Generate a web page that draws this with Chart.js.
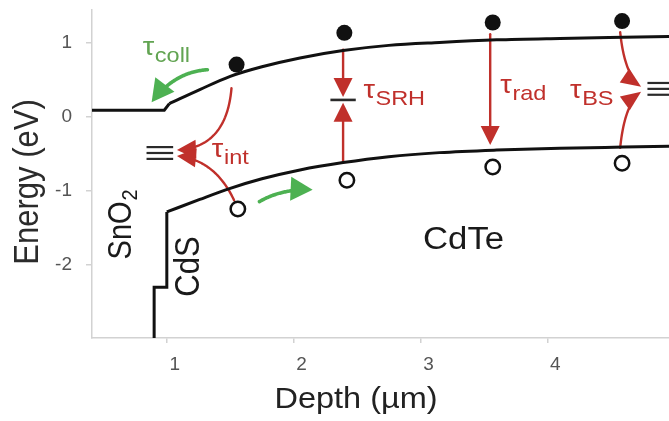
<!DOCTYPE html>
<html>
<head>
<meta charset="utf-8">
<style>
  html, body { margin: 0; padding: 0; background: #fff; }
  #wrap { width: 669px; height: 421px; }
</style>
</head>
<body>
<div id="wrap"><canvas id="bands" width="669" height="421"></canvas></div>
<script src="https://cdn.jsdelivr.net/npm/chart.js@4.4.1/dist/chart.umd.min.js"></script>
<script>
// depth in um, energy in eV
const xTicks = [1, 2, 3, 4];
const yTicks = [-2, -1, 0, 1];

// conduction band: flat SnO2 part + step, then the CdTe bending
const cbStepDepth = [0.41, 0.98, 1.02];
const cbStepEnergy = [0.09, 0.09, 0.18];
const cbDepth = [1.02, 1.26, 1.5, 1.75, 2.05, 2.39, 2.75, 3.15, 3.6, 4.1, 4.6, 4.96];
const cbEnergy = [0.18, 0.37, 0.55, 0.68, 0.80, 0.90, 0.97, 1.01, 1.045, 1.065, 1.08, 1.09];

// valence band: SnO2 / CdS staircase, then CdTe
const vbStepDepth = [0.90, 0.90, 1.00, 1.00];
const vbStepEnergy = [-3.0, -2.31, -2.31, -1.29];
const vbDepth = [1.00, 1.26, 1.5, 1.75, 2.05, 2.39, 2.75, 3.15, 3.6, 4.1, 4.6, 4.96];
const vbEnergy = [-1.29, -1.12, -0.97, -0.84, -0.72, -0.62, -0.54, -0.485, -0.45, -0.425, -0.41, -0.40];

// carriers
const electronDepth = [1.55, 2.40, 3.57, 4.59];
const electronEnergy = [0.71, 1.14, 1.28, 1.30];
const holeDepth = [1.56, 2.42, 3.57, 4.59];
const holeEnergy = [-1.25, -0.86, -0.68, -0.63];

// defect levels
const intTrapEnergy = [-0.41, -0.49, -0.57];
const intTrapSpan = [0.84, 1.05];
const bsTrapEnergy = [0.46, 0.38, 0.30];
const bsTrapSpan = [4.79, 4.98];
const srhEnergy = [0.23];
const srhSpan = [2.29, 2.49];

// arrows: [fromX, fromY, ctrlX, ctrlY, toX, toY]
const recombArrows = [
  [1.51, 0.39, 1.47, -0.42, 1.08, -0.45],
  [1.53, -1.13, 1.38, -0.58, 1.08, -0.53],
  [2.39, 0.91, 2.39, 0.59, 2.39, 0.27],
  [2.39, -0.62, 2.39, -0.20, 2.39, 0.19],
  [3.55, 1.12, 3.55, 0.40, 3.55, -0.38],
  [4.575, 1.15, 4.61, 0.56, 4.74, 0.41],
  [4.575, -0.42, 4.61, 0.18, 4.74, 0.34]
];
const collectArrows = [
  [1.32, 0.64, 1.06, 0.61, 0.88, 0.20],
  [1.73, -1.15, 1.91, -0.97, 2.15, -0.99]
];

// lifetime labels
const tauSubs = ['coll', 'int', 'SRH', 'rad', 'BS'];
const tauDepth = [0.81, 1.355, 2.55, 3.63, 4.18];
const tauEnergy = [0.84, -0.54, 0.26, 0.33, 0.26];

const RED = '#c0302b';
const GREEN = '#4db152';
const FONT = '"Liberation Sans", Arial, sans-serif';

function pts(xs, ys) { return xs.map((x, i) => ({ x: x, y: ys[i] })); }

function bandSet(xs, ys, curved) {
  return {
    data: pts(xs, ys), showLine: true, pointRadius: 0, borderColor: '#111',
    borderWidth: 3, fill: false, tension: 0,
    cubicInterpolationMode: curved ? 'monotone' : 'default'
  };
}

function levelSets(energies, span, width) {
  return energies.map(e => ({
    data: [{ x: span[0], y: e }, { x: span[1], y: e }],
    showLine: true, pointRadius: 0, borderColor: '#2a2a2a', borderWidth: width, fill: false
  }));
}

const datasets = [
  { data: pts(electronDepth, electronEnergy), pointRadius: 8, backgroundColor: '#111', borderWidth: 0 },
  { data: pts(holeDepth, holeEnergy), pointRadius: 7.2, backgroundColor: '#fff', borderColor: '#111', borderWidth: 2.5 },
  bandSet(cbStepDepth, cbStepEnergy, false),
  bandSet(cbDepth, cbEnergy, true),
  bandSet(vbStepDepth, vbStepEnergy, false),
  bandSet(vbDepth, vbEnergy, true)
].concat(levelSets(intTrapEnergy, intTrapSpan, 2.2))
 .concat(levelSets(bsTrapEnergy, bsTrapSpan, 2.2))
 .concat(levelSets(srhEnergy, srhSpan, 2.6));

function drawArrow(ctx, sx, sy, a, color, lw, headL, headW) {
  const p0 = [sx.getPixelForValue(a[0]), sy.getPixelForValue(a[1])];
  const c = [sx.getPixelForValue(a[2]), sy.getPixelForValue(a[3])];
  const p1 = [sx.getPixelForValue(a[4]), sy.getPixelForValue(a[5])];
  let ux = p1[0] - c[0], uy = p1[1] - c[1];
  const len = Math.hypot(ux, uy) || 1;
  ux /= len; uy /= len;
  ctx.save();
  ctx.strokeStyle = color; ctx.fillStyle = color; ctx.lineWidth = lw; ctx.lineCap = 'round';
  ctx.beginPath();
  for (let i = 0; i <= 60; i++) {
    const t = i / 60, m = 1 - t;
    const x = m * m * p0[0] + 2 * m * t * c[0] + t * t * p1[0];
    const y = m * m * p0[1] + 2 * m * t * c[1] + t * t * p1[1];
    if (Math.hypot(p1[0] - x, p1[1] - y) < headL * 0.7) break;
    if (i === 0) ctx.moveTo(x, y); else ctx.lineTo(x, y);
  }
  ctx.stroke();
  const bx = p1[0] - ux * headL, by = p1[1] - uy * headL;
  ctx.beginPath();
  ctx.moveTo(p1[0], p1[1]);
  ctx.lineTo(bx - uy * headW, by + ux * headW);
  ctx.lineTo(bx + uy * headW, by - ux * headW);
  ctx.closePath();
  ctx.fill();
  ctx.restore();
}

function stretchedText(ctx, str, px, py, size, color, align, rot) {
  ctx.save();
  ctx.translate(px, py);
  ctx.scale(1.12, 1);
  if (rot) ctx.rotate(rot);
  ctx.font = size + 'px ' + FONT;
  ctx.fillStyle = color;
  ctx.textAlign = align;
  ctx.textBaseline = 'middle';
  ctx.fillText(str, 0, 0);
  ctx.restore();
}

const overlay = {
  id: 'overlay',
  beforeDatasetsDraw(chart) {
    const ctx = chart.ctx, sx = chart.scales.x, sy = chart.scales.y;
    recombArrows.forEach((a, i) => drawArrow(ctx, sx, sy, a, RED, 2.4, i > 4 ? 20 : 19, i > 4 ? 8.5 : 9.5));
    collectArrows.forEach(a => drawArrow(ctx, sx, sy, a, GREEN, 3.6, 22, 12));
  },
  afterDraw(chart) {
    const ctx = chart.ctx, sx = chart.scales.x, sy = chart.scales.y, area = chart.chartArea;

    // lifetimes
    tauSubs.forEach((sub, i) => {
      const px = sx.getPixelForValue(tauDepth[i]), py = sy.getPixelForValue(tauEnergy[i]);
      const color = i === 0 ? '#62a452' : RED;
      ctx.save();
      ctx.translate(px, py);
      ctx.scale(1.12, 1);
      ctx.fillStyle = color;
      ctx.textBaseline = 'alphabetic';
      ctx.font = '26px ' + FONT;
      ctx.fillText('τ', 0, 0);
      const w = ctx.measureText('τ').width;
      ctx.font = '21px ' + FONT;
      ctx.fillText(sub, w + 0.5, 7);
      ctx.restore();
    });

    // layer names
    stretchedText(ctx, 'CdTe', sx.getPixelForValue(3.34), sy.getPixelForValue(-1.67), 31, '#1a1a1a', 'center', 0);
    stretchedText(ctx, 'CdS', sx.getPixelForValue(1.18), sy.getPixelForValue(-2.03), 31, '#1a1a1a', 'center', -Math.PI / 2);

    // SnO2 with subscript
    ctx.save();
    ctx.translate(sx.getPixelForValue(0.645), sy.getPixelForValue(-1.465));
    ctx.scale(1.12, 1);
    ctx.rotate(-Math.PI / 2);
    ctx.fillStyle = '#1a1a1a';
    ctx.textBaseline = 'middle';
    ctx.font = '29px ' + FONT;
    const wS = ctx.measureText('SnO').width;
    ctx.font = '20px ' + FONT;
    const w2 = ctx.measureText('2').width;
    const x0 = -(wS + w2) / 2;
    ctx.font = '29px ' + FONT;
    ctx.fillText('SnO', x0, 0);
    ctx.font = '20px ' + FONT;
    ctx.fillText('2', x0 + wS + 1, 8);
    ctx.restore();

    // axis titles
    stretchedText(ctx, 'Energy (eV)', 28, area.top + 172, 31, '#2b2b2b', 'center', -Math.PI / 2);
    stretchedText(ctx, 'Depth (µm)', 356, 400, 29, '#222', 'center', 0);
  }
};

const axisGrey = '#d2d2d2';
new Chart(document.getElementById('bands'), {
  type: 'scatter',
  data: { datasets: datasets },
  options: {
    responsive: false,
    animation: false,
    layout: { autoPadding: false, padding: { top: 10, right: 0, left: 0, bottom: 0 } },
    plugins: { legend: { display: false }, tooltip: { enabled: false } },
    scales: {
      x: {
        type: 'linear', min: 0.41, max: 4.96,
        afterBuildTicks: s => { s.ticks = xTicks.map(v => ({ value: v })); },
        afterFit: s => { s.height = 83; s.paddingLeft = 0; s.paddingRight = 0; },
        grid: { drawOnChartArea: false, tickLength: 5, color: axisGrey, lineWidth: 1.5 },
        border: { color: axisGrey, width: 1.5 },
        ticks: { color: '#555', font: { family: FONT, size: 19 }, padding: 10, labelOffset: 8, maxRotation: 0 }
      },
      y: {
        type: 'linear', min: -3, max: 1.45,
        afterBuildTicks: s => { s.ticks = yTicks.map(v => ({ value: v })); },
        afterFit: s => { s.width = 92; s.paddingTop = 0; s.paddingBottom = 0; },
        grid: { drawOnChartArea: false, tickLength: 6, color: axisGrey, lineWidth: 1.5 },
        border: { color: axisGrey, width: 1.5 },
        ticks: { color: '#555', font: { family: FONT, size: 19 }, padding: 14 }
      }
    }
  },
  plugins: [overlay]
});
</script>
</body>
</html>
